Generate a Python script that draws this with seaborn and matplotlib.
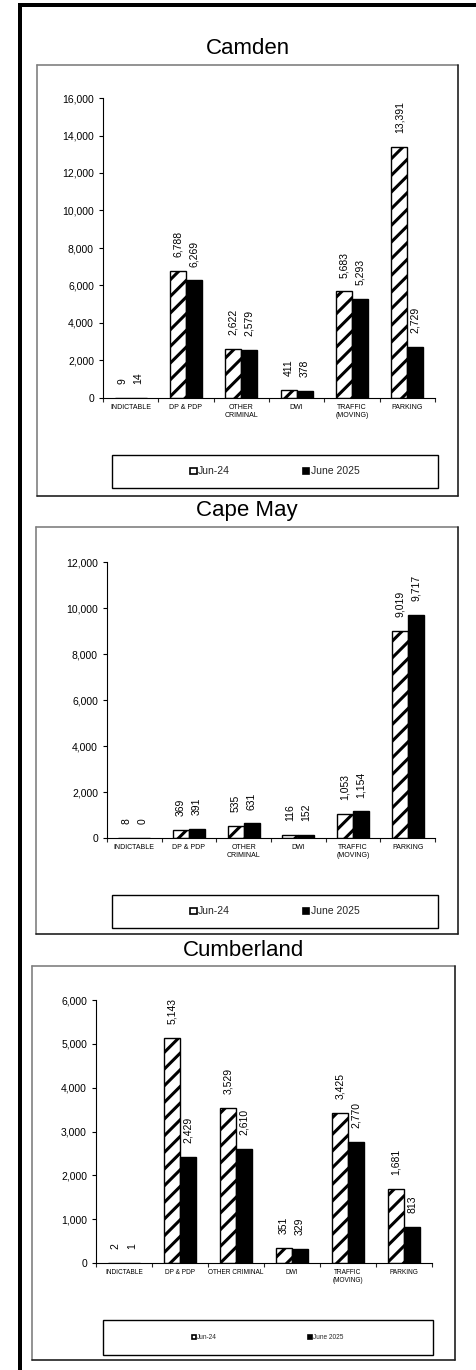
import matplotlib
matplotlib.use("Agg")
import matplotlib.pyplot as plt
from matplotlib.patches import Rectangle
from matplotlib.lines import Line2D
from matplotlib.ticker import FuncFormatter
import numpy as np
import pandas as pd
import seaborn as sns

# data
categories = ['INDICTABLE', 'DP & PDP', 'OTHER\nCRIMINAL', 'DWI', 'TRAFFIC\n(MOVING)', 'PARKING']
categories_cumb = ['INDICTABLE', 'DP & PDP', 'OTHER CRIMINAL', 'DWI', 'TRAFFIC\n(MOVING)', 'PARKING']
periods = ['Jun-24', 'June 2025']

camden_jun24 = [9, 6788, 2622, 411, 5683, 13391]
camden_jun25 = [14, 6269, 2579, 378, 5293, 2729]
capemay_jun24 = [8, 369, 535, 116, 1053, 9019]
capemay_jun25 = [0, 391, 631, 152, 1154, 9717]
cumb_jun24 = [2, 5143, 3529, 351, 3425, 1681]
cumb_jun25 = [1, 2429, 2610, 329, 2770, 813]

sns.set_theme(style='white')
plt.rcParams['font.family'] = ['Liberation Sans', 'DejaVu Sans']
plt.rcParams['hatch.linewidth'] = 2.2
plt.rcParams['hatch.color'] = 'black'

W, H = 477, 1370
fig = plt.figure(figsize=(W / 100, H / 100), dpi=100)


def frac(x0, y0, x1, y1):
    # pixel box -> figure fraction [left, bottom, width, height]
    return [x0 / W, 1 - y1 / H, (x1 - x0) / W, (y1 - y0) / H]


def panel_frame(x0, y0, x1, y1):
    l, b, w, h = frac(x0, y0, x1, y1)
    fig.add_artist(Line2D([l, l + w], [b + h, b + h], color='#808080', lw=1.2, transform=fig.transFigure))
    fig.add_artist(Line2D([l, l], [b, b + h], color='#808080', lw=1.2, transform=fig.transFigure))
    fig.add_artist(Line2D([l + w, l + w], [b, b + h], color='#202020', lw=1.2, transform=fig.transFigure))
    fig.add_artist(Line2D([l, l + w], [b, b], color='#202020', lw=1.2, transform=fig.transFigure))


def draw_panel(title, cats, v24, v25, ax_box, ymax, ystep, title_y, frame, leg_box,
               leg_fs, xt_fs, colspace):
    df = pd.DataFrame({
        'category': cats * 2,
        'value': v24 + v25,
        'period': [periods[0]] * len(cats) + [periods[1]] * len(cats),
    })
    ax = fig.add_axes(frac(*ax_box))
    sns.barplot(data=df, x='category', y='value', hue='period', order=cats,
                hue_order=periods, palette=['white', 'black'], width=0.58,
                edgecolor='black', linewidth=1.0, saturation=1, legend=False, ax=ax)
    for p in ax.containers[0]:
        p.set_hatch('//')
    for c in ax.containers:
        ax.bar_label(c, labels=[f'{v:,.0f}' for v in c.datavalues], padding=10,
                     rotation=90, fontsize=7.5, color='black')

    ax.set_xlim(-0.5, len(cats) - 0.5)
    ax.set_ylim(0, ymax)
    ax.set_yticks(np.arange(0, ymax + 1, ystep))
    ax.yaxis.set_major_formatter(FuncFormatter(lambda v, _: f'{v:,.0f}'))
    ax.set_xticks(range(len(cats)))
    ax.set_xticklabels(cats, fontsize=xt_fs)
    ax.set_xticks(np.arange(-0.5, len(cats), 1), minor=True)
    ax.tick_params(axis='x', which='major', length=0, pad=4, colors='black')
    ax.tick_params(axis='x', which='minor', length=3, width=0.8, direction='out', bottom=True)
    ax.tick_params(axis='y', length=3, width=0.8, direction='out', left=True, labelsize=7.5,
                   colors='black')
    ax.set_xlabel('')
    ax.set_ylabel('')
    for s in ['top', 'right']:
        ax.spines[s].set_visible(False)
    for s in ['left', 'bottom']:
        ax.spines[s].set_color('black')
        ax.spines[s].set_linewidth(0.8)
    ax.patch.set_alpha(0)

    panel_frame(*frame)
    fig.text((frame[0] + frame[2]) / 2 / W, 1 - title_y / H, title, ha='center', va='center',
             fontsize=16, color='black')

    l, b, w, h = frac(*leg_box)
    fig.add_artist(Rectangle((l, b), w, h, transform=fig.transFigure, fill=False,
                             edgecolor='black', lw=1.0))
    handles = [Rectangle((0, 0), 1, 1, facecolor='white', edgecolor='black', lw=1.2),
               Rectangle((0, 0), 1, 1, facecolor='black', edgecolor='black', lw=1.2)]
    fig.legend(handles, periods, loc='center', bbox_to_anchor=(l + w / 2, b + h / 2),
               bbox_transform=fig.transFigure, ncol=2, frameon=False, fontsize=leg_fs,
               handlelength=0.6, handleheight=0.6, handletextpad=0.15,
               columnspacing=colspace, borderpad=0)
    return ax


draw_panel('Camden', categories, camden_jun24, camden_jun25,
           ax_box=(103, 98, 435, 398), ymax=16000, ystep=2000, title_y=49,
           frame=(37, 65, 458, 496), leg_box=(112, 455, 438, 488),
           leg_fs=7.5, xt_fs=5, colspace=7)

draw_panel('Cape May', categories, capemay_jun24, capemay_jun25,
           ax_box=(107, 562, 435, 838), ymax=12000, ystep=2000, title_y=511,
           frame=(36, 527, 458, 934), leg_box=(112, 895, 438, 928),
           leg_fs=7.5, xt_fs=5, colspace=7)

draw_panel('Cumberland', categories_cumb, cumb_jun24, cumb_jun25,
           ax_box=(96, 1000, 432, 1263), ymax=6000, ystep=1000, title_y=950,
           frame=(32, 966, 455, 1360), leg_box=(103, 1320, 433, 1355),
           leg_fs=4.7, xt_fs=4.7, colspace=14)

# thick black frame lines on the left and top
fig.add_artist(Rectangle((18 / W, 0), 4 / W, 1 - 3 / H, transform=fig.transFigure,
                         facecolor='black', edgecolor='none'))
fig.add_artist(Rectangle((18 / W, 1 - 7 / H), 1 - 18 / W, 4 / H, transform=fig.transFigure,
                         facecolor='black', edgecolor='none'))

fig.savefig('out.png', dpi=100)
